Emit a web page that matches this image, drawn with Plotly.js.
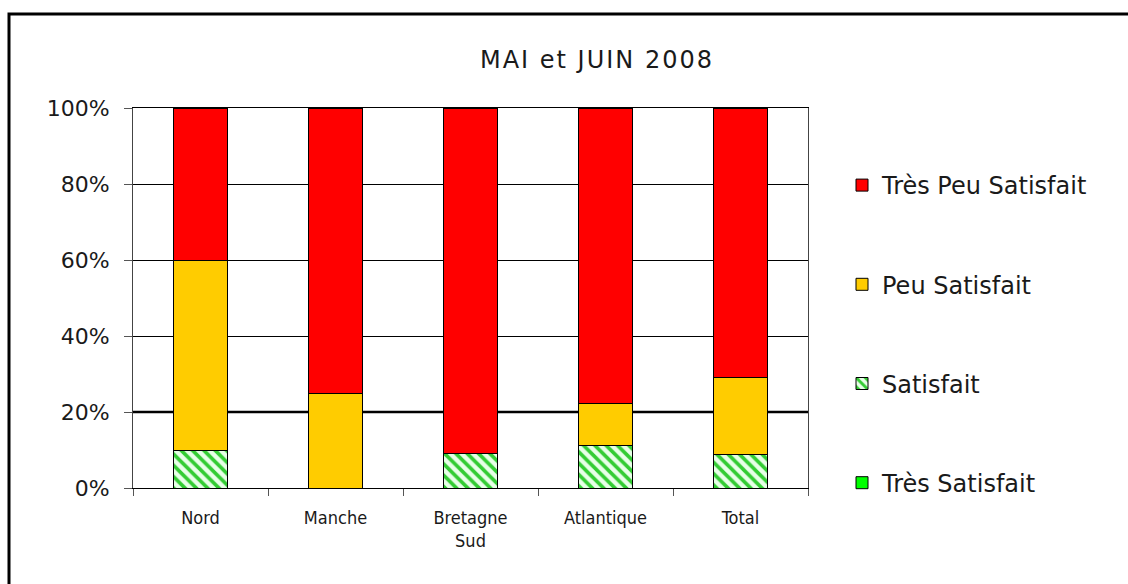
<!DOCTYPE html>
<html>
<head>
<meta charset="utf-8">
<script src="https://cdn.plot.ly/plotly-3.0.1.min.js"></script>
<style>html,body{margin:0;padding:0;background:#fff;}#chart{width:1128px;height:584px;}
.gtitle{letter-spacing:2px;}</style>
</head>
<body>
<div id="chart"></div>
<script>
const categories = ["Nord", "Manche", "Bretagne<br>Sud", "Atlantique", "Total"];
const tresSatisfait = [0, 0, 0, 0, 0];
const satisfait = [10, 0, 9.1, 11.1, 8.9];
const peuSatisfait = [50, 25, 0, 11.1, 20.3];
const tresPeuSatisfait = [40, 75, 90.9, 77.8, 70.8];
const yTicks = [0, 20, 40, 60, 80, 100];
const chartTitle = "MAI et JUIN 2008";

const line = {color: "#000", width: 1};
const traces = [
  {name: "Très Satisfait", y: tresSatisfait, marker: {color: "#00FF00", line: line}, legendgroup: "a", legendrank: 4},
  {name: "Satisfait", y: satisfait, marker: {color: "#E8FFE8", line: line,
     pattern: {shape: "\\", fgcolor: "#33CC33", bgcolor: "#E8FFE8", size: 8, solidity: 0.45}}, legendgroup: "b", legendrank: 3},
  {name: "Peu Satisfait", y: peuSatisfait, marker: {color: "#FFCC00", line: line}, legendgroup: "c", legendrank: 2},
  {name: "Très Peu Satisfait", y: tresPeuSatisfait, marker: {color: "#FF0000", line: line}, legendgroup: "d", legendrank: 1}
].map(t => Object.assign({type: "bar", x: categories, width: 0.4, hoverinfo: "skip"}, t));

const fontFam = "DejaVu Sans, Verdana, sans-serif";
const layout = {
  width: 1128, height: 584,
  margin: {l: 133, r: 320, t: 108, b: 96},
  paper_bgcolor: "#fff", plot_bgcolor: "#fff",
  barmode: "stack",
  showlegend: true,
  font: {family: fontFam, color: "#1a1a1a"},
  title: {text: chartTitle, x: 597/1128, xanchor: "center", y: 1 - 60/584, yanchor: "middle",
          font: {family: fontFam, size: 24, color: "#1a1a1a"}},
  xaxis: {type: "category", tickson: "boundaries", ticks: "outside", ticklen: 7, tickcolor: "#555",
          showline: true, linecolor: "#000", linewidth: 1, mirror: true, showgrid: false, ticklabelstandoff: 13,
          tickfont: {family: "DejaVu Sans Condensed, Liberation Sans Narrow, sans-serif", size: 18, color: "#1a1a1a"}},
  yaxis: {range: [0, 100], tickvals: yTicks, ticktext: yTicks.map(v => v + "%"), ticks: "outside", ticklen: 8,
          tickcolor: "#555", showline: true, linecolor: "#444", linewidth: 1, mirror: true,
          showgrid: true, gridcolor: "#000", gridwidth: 1, zeroline: false, ticklabelstandoff: 10,
          tickfont: {family: fontFam, size: 22, color: "#1a1a1a"}},
  legend: {x: (842 - 133)/675, xanchor: "left", y: (488 - 163)/380, yanchor: "top",
           traceorder: "grouped", tracegroupgap: 65, bgcolor: "rgba(0,0,0,0)",
           font: {family: fontFam, size: 24, color: "#1a1a1a"}},
  shapes: [
    {type: "line", xref: "paper", yref: "y", x0: 0, x1: 1, y0: 20, y1: 20, layer: "below", line: {color: "#000", width: 2.5}},
    {type: "rect", xref: "paper", yref: "paper", x0: (9 - 133)/675, x1: (1145 - 133)/675,
     y0: (488 - 600)/380, y1: (488 - 14)/380, line: {color: "#000", width: 3}}
  ]
};

Plotly.newPlot("chart", traces, layout, {staticPlot: true, displayModeBar: false});
</script>
</body>
</html>
